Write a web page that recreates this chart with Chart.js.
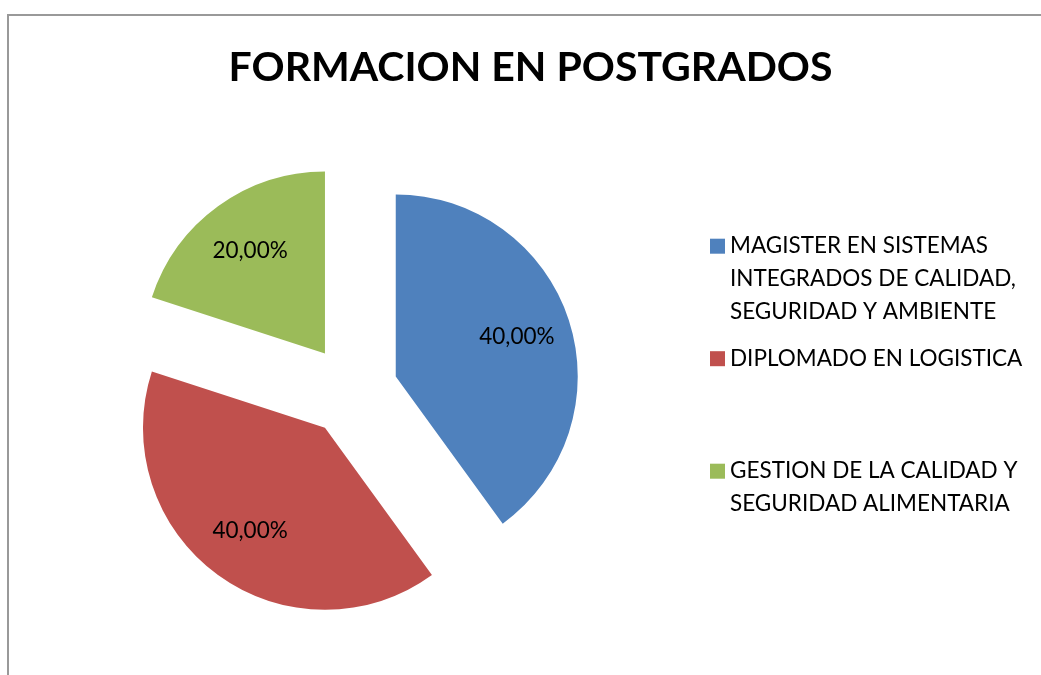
<!DOCTYPE html>
<html>
<head>
<meta charset="utf-8">
<script src="https://cdn.jsdelivr.net/npm/chart.js@4.4.1/dist/chart.umd.min.js"></script>
<style>
  html, body { margin: 0; padding: 0; background: #fff; }
  #wrap { position: relative; width: 1041px; height: 675px; overflow: hidden; }
  #frame { position: absolute; left: 7px; top: 14px; width: 1100px; height: 700px;
           border-top: 2px solid #999; border-left: 2px solid #999; pointer-events: none; }
  canvas { position: absolute; left: 0; top: 0; }
</style>
</head>
<body>
<div id="wrap">
  <canvas id="pieChart" width="1041" height="675"></canvas>
  <div id="frame"></div>
</div>
<script>
// Chart data
const titleText = 'FORMACION EN POSTGRADOS';
const categories = [
  ['MAGISTER EN SISTEMAS', 'INTEGRADOS DE CALIDAD,', 'SEGURIDAD Y AMBIENTE'],
  ['DIPLOMADO EN LOGISTICA'],
  ['GESTION DE LA CALIDAD Y', 'SEGURIDAD ALIMENTARIA']
];
const percentages = [40, 40, 20];
const sliceColors = ['#4F81BD', '#C0504D', '#9BBB59'];

const explodeOffset = 46;
const labelFont = '22.5px Lato';

// pull every slice out from the centre (the built-in offset also resizes arcs)
const explodePlugin = {
  id: 'explode',
  afterDatasetsUpdate(chart) {
    chart.getDatasetMeta(0).data.forEach(arc => {
      const mid = (arc.startAngle + arc.endAngle) / 2;
      arc.x += Math.cos(mid) * explodeOffset;
      arc.y += Math.sin(mid) * explodeOffset;
    });
  }
};

// percentage labels inside the slices
const sliceLabelPlugin = {
  id: 'sliceLabels',
  afterDatasetsDraw(chart) {
    const ctx = chart.ctx;
    const values = chart.data.datasets[0].data;
    const total = values.reduce((a, b) => a + b, 0);
    ctx.save();
    ctx.font = labelFont;
    ctx.fillStyle = '#000';
    ctx.textAlign = 'center';
    ctx.textBaseline = 'middle';
    chart.getDatasetMeta(0).data.forEach((arc, i) => {
      const mid = (arc.startAngle + arc.endAngle) / 2;
      const r = arc.outerRadius * 0.7;
      const text = (values[i] / total * 100).toFixed(2).replace('.', ',') + '%';
      ctx.fillText(text, arc.x + Math.cos(mid) * r, arc.y + Math.sin(mid) * r);
    });
    ctx.restore();
  }
};

// legend on the right, entries spread evenly like Excel does
const legendBox = {
  position: 'right',
  weight: 0,
  fullSize: false,
  options: {},
  width: 0, height: 0, left: 0, top: 0, right: 0, bottom: 0,
  isHorizontal() { return false; },
  update(maxWidth, maxHeight) {
    this.width = 357;
    this.height = maxHeight;
  },
  draw() {
    const ctx = this.ctx;
    ctx.save();
    ctx.font = labelFont;
    ctx.textAlign = 'left';
    ctx.textBaseline = 'alphabetic';
    categories.forEach((lines, i) => {
      const base = this.top + 142 + i * 112.5;
      ctx.fillStyle = sliceColors[i];
      ctx.fillRect(this.left + 26, base - 14.5, 15, 15);
      ctx.fillStyle = '#000';
      lines.forEach((line, j) => ctx.fillText(line, this.left + 46, base + j * 33));
    });
    ctx.restore();
  }
};

const sideLegendPlugin = {
  id: 'sideLegend',
  beforeInit(chart) {
    legendBox.ctx = chart.ctx;
    Chart.layouts.addBox(chart, legendBox);
  }
};

const ctx = document.getElementById('pieChart').getContext('2d');
const pieChart = new Chart(ctx, {
  type: 'pie',
  data: {
    labels: categories,
    datasets: [{
      data: percentages,
      backgroundColor: sliceColors,
      borderWidth: 0,
      hoverOffset: 0,
      radius: 182
    }]
  },
  options: {
    responsive: false,
    animation: false,
    layout: { padding: { left: 20, bottom: 5 } },
    plugins: {
      legend: { display: false },
      tooltip: { enabled: false },
      title: {
        display: true,
        text: titleText,
        color: '#000',
        font: { family: 'Lato', size: 41, weight: 'bold' },
        padding: { top: 43, bottom: 19 }
      }
    }
  },
  plugins: [explodePlugin, sliceLabelPlugin, sideLegendPlugin]
});
</script>
</body>
</html>
